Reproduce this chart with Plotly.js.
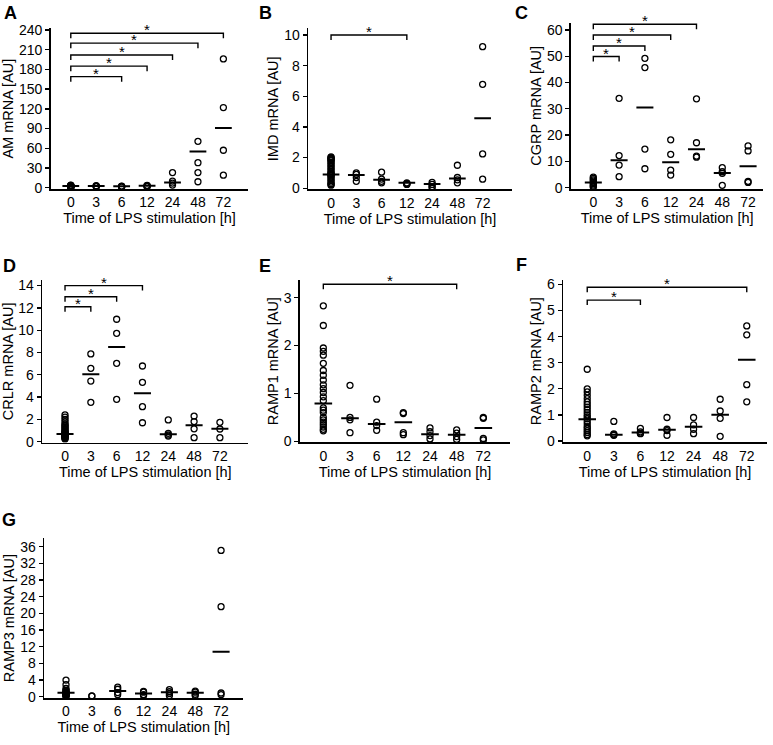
<!DOCTYPE html>
<html><head><meta charset="utf-8">
<script src="https://cdn.plot.ly/plotly-3.0.1.min.js"></script>
<style>html,body{margin:0;padding:0;background:#fff}#chart{width:773px;height:745px}</style>
</head><body><div id="chart"></div>
<script>
const times = ['0','3','6','12','24','48','72'];
const xTitle = 'Time of LPS stimulation [h]';

// A: AM
const amValues = [
  [0.5,1,1.5,2,2.5,3,3.5,4,1.8,2.2,0.8,2.8],
  [1.5,2,2.5,3],
  [1,1.5,2,2.5],
  [1.5,2,3,3.5],
  [23,10,7,4],
  [70.5,38,23,9],
  [196,122,57,19]
];
const amMedian = [2.5,2.5,2,3,8,55,91];
const amBrackets = [[0,2,169],[0,3,185],[0,4,202],[0,5,220],[0,6,235]];

// B: IMD
const imdValues = [
  [2.05,2.0,1.95,1.9,1.85,1.8,1.7,1.6,1.5,1.4,1.3,1.2,1.1,1.0,0.95,0.9,0.85,0.8,0.7,0.6,0.5,0.4,0.3,0.25,0.2],
  [1.0,0.9,0.7,0.45],
  [1.05,0.6,0.45,0.35],
  [0.35,0.3,0.28,0.25],
  [0.38,0.25,0.1,0.05],
  [1.5,0.7,0.55,0.35],
  [9.24,6.78,2.24,0.59]
];
const imdMedian = [0.9,0.87,0.55,0.35,0.27,0.63,4.57];
const imdBrackets = [[0,3,10.0]];

// C: CGRP
const cgrpValues = [
  [4,3.5,3,2.5,2,1.5,1,0.5,0.3],
  [34,12.2,8.6,4.2],
  [49.2,45.7,14.7,7.2],
  [18.2,12.7,6.7,4.8],
  [33.8,17.1,12,11.6],
  [7.6,6.1,5.5,0.9],
  [15.9,14,2.4,2.0]
];
const cgrpMedian = [2,10.4,30.5,9.7,14.6,5.6,8.2];
const cgrpBrackets = [[0,1,49.9],[0,2,53.9],[0,3,58.1],[0,4,62.2]];

// D: CRLR
const crlrValues = [
  [2.4,2.2,2.0,1.8,1.6,1.5,1.4,1.3,1.2,1.1,1.0,0.9,0.85,0.8,0.75,0.7,0.65,0.6,0.55,0.5,0.45,0.4,0.35,0.3,0.25],
  [7.87,6.58,5.44,3.53],
  [10.98,9.72,7.03,3.8],
  [6.79,5.32,3.14,1.7],
  [1.95,0.75,0.6,0.5],
  [2.3,1.8,1.15,0.36],
  [1.74,1.14,0.36]
];
const crlrMedian = [0.7,6.05,8.5,4.35,0.67,1.48,1.17];
const crlrBrackets = [[0,1,12.1],[0,2,13.0],[0,3,14.0]];

// E: RAMP1
const ramp1Values = [
  [2.83,2.42,1.95,1.88,1.8,1.63,1.48,1.38,1.28,1.18,1.1,1.02,0.93,0.85,0.7,0.65,0.6,0.5,0.45,0.4,0.35,0.3,0.25,0.22],
  [1.17,0.5,0.45,0.18],
  [0.88,0.4,0.33,0.23],
  [0.6,0.58,0.18,0.14],
  [0.28,0.2,0.12,0.05],
  [0.24,0.17,0.1,0.04],
  [0.5,0.48,0.06,0.03]
];
const ramp1Median = [0.79,0.48,0.36,0.4,0.15,0.14,0.28];
const ramp1Brackets = [[0,5,3.28]];

// F: RAMP2
const ramp2Values = [
  [2.75,2.0,1.88,1.75,1.62,1.5,1.4,1.3,1.2,1.1,1.0,0.92,0.85,0.75,0.65,0.55,0.48,0.4,0.33,0.25,0.2],
  [0.75,0.27,0.24,0.22],
  [0.48,0.35,0.3,0.28],
  [0.9,0.45,0.4,0.22],
  [0.9,0.62,0.45,0.28],
  [1.6,1.15,0.87,0.18],
  [4.41,4.07,2.16,1.5]
];
const ramp2Median = [0.83,0.24,0.33,0.43,0.55,1.01,3.11];
const ramp2Brackets = [[0,2,5.4],[0,6,5.89]];

// G: RAMP3
const ramp3Values = [
  [4.0,2.9,2.0,1.6,1.4,1.2,1.0,0.9,0.8,0.7,0.6,0.5,0.4,0.3,0.2,0.15],
  [0.2,0.15],
  [2.3,1.8,1.0,0.5],
  [1.3,1.1,0.5,0.3],
  [1.7,1.2,0.8,0.3],
  [1.35,1.1,0.6,0.3],
  [35.1,21.6,0.9,0.5]
];
const ramp3Median = [0.95,null,1.35,0.75,1.05,0.95,10.8];
const ramp3Brackets = [];

// layout boxes in px: [left, right, top, bottom]
const panels = [
  {letter:'A', lp:[10,12.5],  title:'AM mRNA [AU]',   values:amValues,    median:amMedian,    brackets:amBrackets,    box:[50.7,248.3,28.3,189],   xr:[-0.79,6.98], yr:[-2,242.6],    dtick:30},
  {letter:'B', lp:[265,12.5], title:'IMD mRNA [AU]',  values:imdValues,   median:imdMedian,   brackets:imdBrackets,   box:[308.3,511.7,28.3,189.3], xr:[-0.9,7.15],  yr:[-0.07,10.44], dtick:2},
  {letter:'C', lp:[521,12.5], title:'CGRP mRNA [AU]', values:cgrpValues,  median:cgrpMedian,  brackets:cgrpBrackets,  box:[571,763.3,22.6,189],    xr:[-0.865,6.59],yr:[-0.5,62.8],   dtick:10},
  {letter:'D', lp:[9,266],    title:'CRLR mRNA [AU]', values:crlrValues,  median:crlrMedian,  brackets:crlrBrackets,  box:[42.3,248.3,280,442.7],  xr:[-0.88,7.1],  yr:[-0.09,14.5],  dtick:2},
  {letter:'E', lp:[265,266],  title:'RAMP1 mRNA [AU]',values:ramp1Values, median:ramp1Median, brackets:ramp1Brackets, box:[300,510,280,442.3],     xr:[-0.875,7.0], yr:[-0.02,3.37],  dtick:1},
  {letter:'F', lp:[521,265],  title:'RAMP2 mRNA [AU]',values:ramp2Values, median:ramp2Median, brackets:ramp2Brackets, box:[563.3,766.7,280,442.3], xr:[-0.9,6.75],  yr:[-0.05,6.17],  dtick:1},
  {letter:'G', lp:[8.5,520],  title:'RAMP3 mRNA [AU]',values:ramp3Values, median:ramp3Median, brackets:ramp3Brackets, box:[44.3,243.3,538.3,698],  xr:[-0.84,6.86], yr:[-0.3,38],     dtick:4}
];

const W = 773, H = 745;
const font = 'Liberation Sans, Arial, sans-serif';
const traces = [];
const layout = {
  width: W, height: H, margin:{l:0,r:0,t:0,b:0},
  paper_bgcolor:'#fff', plot_bgcolor:'#fff', showlegend:false,
  font:{family:font, color:'#000', size:14},
  annotations:[]
};
const halfW = 0.33;

panels.forEach((p, i) => {
  const n = i + 1;
  const xa = 'x' + (n === 1 ? '' : n), ya = 'y' + (n === 1 ? '' : n);
  const xs = [], ys = [];
  p.values.forEach((grp, g) => grp.forEach(v => { xs.push(g); ys.push(v); }));
  traces.push({type:'scatter', mode:'markers', x:xs, y:ys, xaxis:xa, yaxis:ya,
    marker:{symbol:'circle-open', size:6, color:'#000', line:{width:1.3, color:'#000'}},
    hoverinfo:'y'});
  const mx = [], my = [];
  p.median.forEach((m, g) => { if (m !== null) { mx.push(g-halfW, g+halfW, null); my.push(m, m, null); } });
  traces.push({type:'scatter', mode:'lines', x:mx, y:my, xaxis:xa, yaxis:ya,
    line:{color:'#000', width:2}, hoverinfo:'skip'});
  const pxPerUnit = (p.box[3]-p.box[2]) / (p.yr[1]-p.yr[0]);
  const drop = 5 / pxPerUnit;
  const bx = [], by = [];
  p.brackets.forEach(b => {
    bx.push(b[0], b[0], b[1], b[1], null);
    by.push(b[2]-drop, b[2], b[2], b[2]-drop, null);
    layout.annotations.push({xref:xa, yref:ya, x:(b[0]+b[1])/2, y:b[2], text:'*', showarrow:false,
      xanchor:'center', yanchor:'bottom', yshift:-7, font:{size:15, color:'#000', family:font}});
  });
  if (bx.length) traces.push({type:'scatter', mode:'lines', x:bx, y:by, xaxis:xa, yaxis:ya,
    line:{color:'#000', width:1.4}, hoverinfo:'skip', cliponaxis:false});

  const xkey = 'xaxis' + (n === 1 ? '' : n), ykey = 'yaxis' + (n === 1 ? '' : n);
  layout[xkey] = {
    domain:[p.box[0]/W, p.box[1]/W], anchor:ya, range:p.xr,
    tickvals:times.map((t, k) => k), ticktext:times, ticks:'', ticklabelstandoff:0,
    showline:true, linecolor:'#000', linewidth:1.6, showgrid:false, zeroline:false,
    tickfont:{size:14, family:font, color:'#000'},
    title:{text:xTitle, font:{size:14.5, family:font, color:'#000'}, standoff:0},
    fixedrange:true
  };
  layout[ykey] = {
    domain:[1 - p.box[3]/H, 1 - p.box[2]/H], anchor:xa, range:p.yr,
    tick0:0, dtick:p.dtick, ticks:'outside', ticklen:4, tickwidth:1.3, tickcolor:'#000',
    showline:true, linecolor:'#000', linewidth:1.6, showgrid:false, zeroline:false,
    tickfont:{size:14, family:font, color:'#000'},
    title:{text:p.title, font:{size:14.5, family:font, color:'#000'}, standoff:2},
    fixedrange:true
  };
  layout.annotations.push({xref:'paper', yref:'paper', x:p.lp[0]/W, y:1-p.lp[1]/H, text:'<b>'+p.letter+'</b>',
    showarrow:false, xanchor:'center', yanchor:'middle', font:{size:18, family:font, color:'#000'}});
});

Plotly.newPlot('chart', traces, layout, {displayModeBar:false, staticPlot:true});
</script>
</body></html>
